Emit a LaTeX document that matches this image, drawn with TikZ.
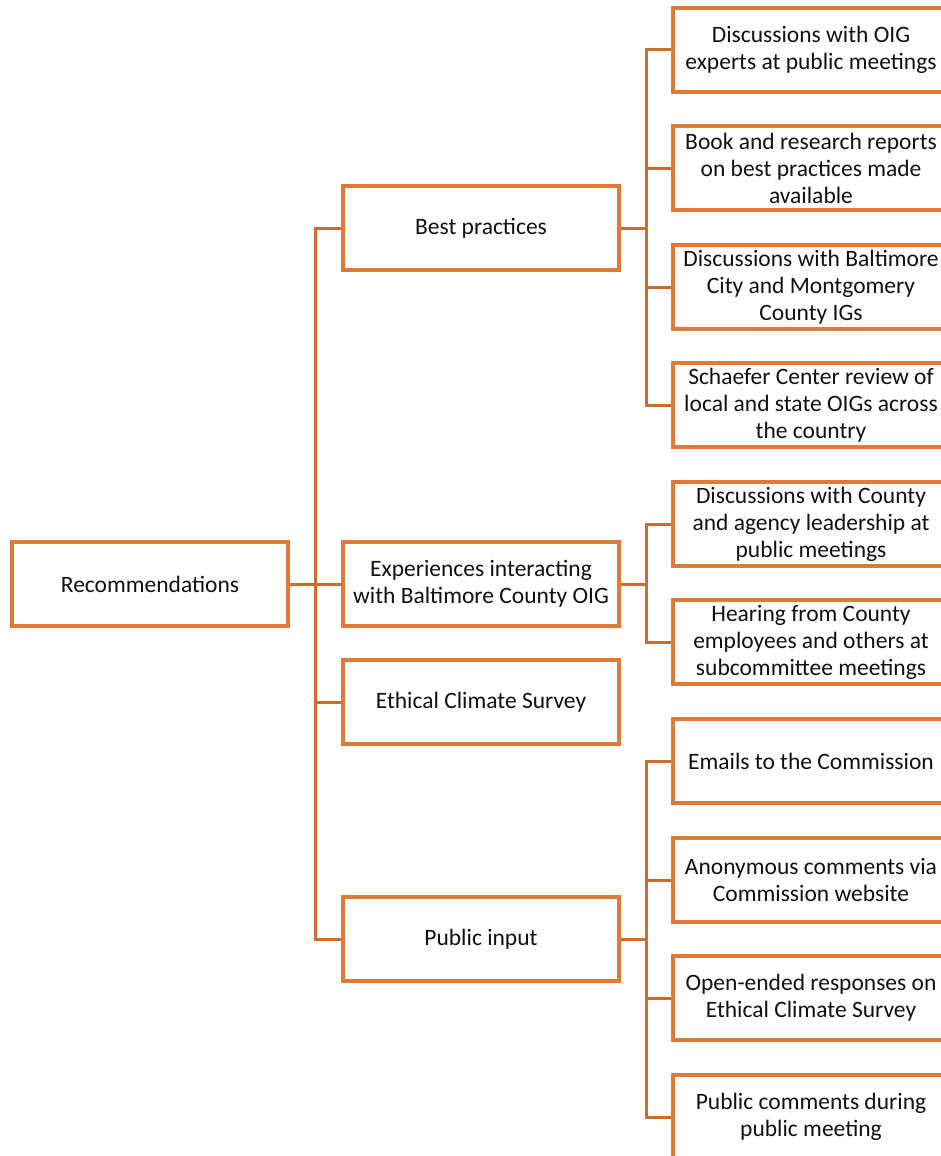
\documentclass[tikz,border=0pt]{standalone}
\usepackage{fontspec}
\setmainfont{Carlito}
\definecolor{boxc}{HTML}{E07A36}
\definecolor{connc}{HTML}{CF6B2C}
\definecolor{txt}{HTML}{111111}
\begin{document}
\begin{tikzpicture}[x=1pt,y=-1pt,
  box/.style={draw=boxc, line width=3.2pt, fill=white, minimum width=276pt, minimum height=84pt,
    align=center, inner sep=2pt, text=txt, font=\fontsize{23.5}{27}\selectfont},
  conn/.style={draw=connc, line width=3pt}]
\useasboundingbox (0,0) rectangle (941,1156);
\clip (0,0) rectangle (941,1156);
% root
\node[box] (rec) at (150,584) {Recommendations};
% level 1
\node[box] (bp)  at (481,228) {Best practices};
\node[box] (exp) at (481,584) {Experiences interacting\\with Baltimore County OIG};
\node[box] (ecs) at (481,702) {Ethical Climate Survey};
\node[box] (pi)  at (481,939) {Public input};
% level 2
\node[box] (c1) at (811,50)   {Discussions with OIG\\experts at public meetings};
\node[box] (c2) at (811,168)  {Book and research reports\\on best practices made\\available};
\node[box] (c3) at (811,287)  {Discussions with Baltimore\\City and Montgomery\\County IGs};
\node[box] (c4) at (811,405)  {Schaefer Center review of\\local and state OIGs across\\the country};
\node[box] (c5) at (811,524)  {Discussions with County\\and agency leadership at\\public meetings};
\node[box] (c6) at (811,642)  {Hearing from County\\employees and others at\\subcommittee meetings};
\node[box] (c7) at (811,761)  {Emails to the Commission};
\node[box] (c8) at (811,880)  {Anonymous comments via\\Commission website};
\node[box] (c9) at (811,998)  {Open-ended responses on\\Ethical Climate Survey};
\node[box] (c10) at (811,1117) {Public comments during\\public meeting};
% junctions
\coordinate (t)  at (315,584);
\coordinate (j1) at (646,228);
\coordinate (j2) at (646,584);
\coordinate (j4) at (646,939);
% level-1 connectors
\draw[conn] (rec.east) -- (t);
\draw[conn] (bp.west) -| (t) |- (pi.west);
\draw[conn] (t) -- (exp.west);
\draw[conn] (ecs.west) -| (t);
% best practices
\draw[conn] (bp.east) -- (j1);
\draw[conn] (c1.west) -| (j1) |- (c4.west);
\draw[conn] (c2.west) -| (j1);
\draw[conn] (c3.west) -| (j1);
% experiences
\draw[conn] (exp.east) -- (j2);
\draw[conn] (c5.west) -| (j2) |- (c6.west);
% public input
\draw[conn] (pi.east) -- (j4);
\draw[conn] (c7.west) -| (j4) |- (c10.west);
\draw[conn] (c8.west) -| (j4);
\draw[conn] (c9.west) -| (j4);
\end{tikzpicture}
\end{document}
